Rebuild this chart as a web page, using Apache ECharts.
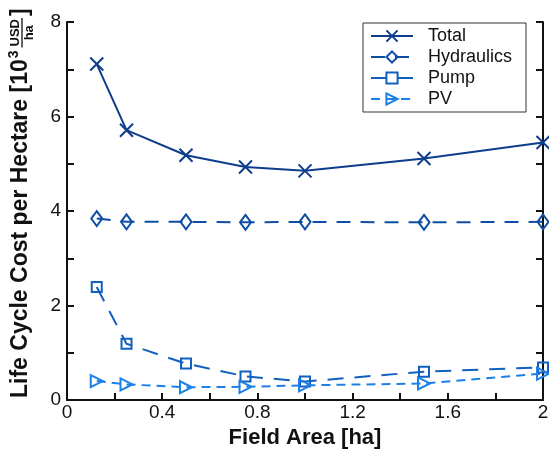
<!DOCTYPE html>
<html>
<head>
<meta charset="utf-8">
<script src="https://cdn.jsdelivr.net/npm/echarts@6/dist/echarts.min.js"></script>
<style>
  html, body { margin: 0; padding: 0; background: #fff; }
  #chart { width: 549px; height: 449px; }
</style>
</head>
<body>
<div id="chart"></div>
<script>
// Field area (ha) at which each configuration was evaluated
const fieldArea = [0.125, 0.25, 0.5, 0.75, 1.0, 1.5, 2.0];

// Life cycle cost per hectare, 10^3 USD/ha
const totalCost      = [7.11, 5.71, 5.18, 4.93, 4.85, 5.11, 5.45];
const hydraulicsCost = [3.84, 3.77, 3.77, 3.76, 3.77, 3.76, 3.77];
const pumpCost       = [2.39, 1.19, 0.77, 0.50, 0.39, 0.60, 0.69];
const pvCost         = [0.40, 0.33, 0.27, 0.28, 0.31, 0.35, 0.56];

const seriesNames = ['Total', 'Hydraulics', 'Pump', 'PV'];

const FONT = '"Liberation Sans", Arial, Helvetica, sans-serif';
const AXIS_COLOR = '#111';

const pairs = ys => fieldArea.map((x, i) => [x, ys[i]]);

const CROSS = 'path://M0,0L10,10M10,0L0,10';
const DIAMOND = 'path://M5,0L10,7L5,14L0,7Z';
const SQUARE = 'path://M0,0L10,0L10,10L0,10Z';
const TRI_RIGHT = 'path://M0,0L11,5.5L0,11Z';

function lineSeries(name, ys, color, dash, symbol, size) {
  return {
    name: name,
    type: 'line',
    data: pairs(ys),
    clip: false,
    symbol: symbol,
    symbolSize: size,
    showAllSymbol: true,
    lineStyle: { color: color, width: 2, type: dash },
    itemStyle: { color: 'rgba(255,255,255,0)', borderColor: color, borderWidth: 2 },
    emphasis: { disabled: true },
    z: 3
  };
}

// Text width helper for laying out the rotated y-axis title
const measureCtx = document.createElement('canvas').getContext('2d');
function textWidth(str, font) {
  measureCtx.font = font;
  return measureCtx.measureText(str).width;
}

const titleFont = 'bold 23px ' + FONT;
const supFont = 'bold 14px ' + FONT;
const fracFont = 'bold 13px ' + FONT;
const titleMain = 'Life Cycle Cost per Hectare [10';
const wMain = textWidth(titleMain, titleFont);
const wSup = textWidth('3', supFont);
const wFrac = textWidth('USD', fracFont);
const fracX = wMain + wSup + 5;

const chart = echarts.init(document.getElementById('chart'), null, { renderer: 'canvas' });

const axisCommon = {
  axisLine: { show: true, onZero: false, lineStyle: { color: AXIS_COLOR, width: 2 } },
  axisTick: { show: true, inside: true, length: 7, lineStyle: { color: AXIS_COLOR, width: 2 } },
  minorTick: { show: true, splitNumber: 2, length: 7, lineStyle: { color: AXIS_COLOR, width: 2 } },
  splitLine: { show: false },
  minorSplitLine: { show: false }
};

chart.setOption({
  animation: false,
  backgroundColor: '#fff',
  grid: { left: 67, right: 6, top: 22, bottom: 49, containLabel: false, outerBoundsMode: 'none' },
  xAxis: Object.assign({
    type: 'value',
    min: 0, max: 2, interval: 0.4,
    name: 'Field Area [ha]',
    nameLocation: 'middle',
    nameGap: 26,
    nameTextStyle: { fontFamily: FONT, fontSize: 22, fontWeight: 'bold', color: '#111' },
    axisLabel: {
      fontFamily: FONT, fontSize: 19, color: '#111', margin: 3,
      formatter: v => (Math.round(v * 10) / 10).toString()
    }
  }, axisCommon),
  yAxis: [
    Object.assign({
      type: 'value',
      min: 0, max: 8, interval: 2,
      axisLabel: { fontFamily: FONT, fontSize: 19, color: '#111', margin: 6 }
    }, axisCommon),
    Object.assign({
      type: 'value',
      position: 'right',
      min: 0, max: 8, interval: 2,
      axisLabel: { show: false }
    }, axisCommon)
  ],
  legend: {
    orient: 'vertical',
    left: 363, top: 23,
    data: seriesNames,
    backgroundColor: '#fff',
    borderColor: '#333',
    borderWidth: 1,
    padding: [4, 14, 4, 7],
    itemWidth: 42,
    itemHeight: 14,
    itemGap: 3,
    selectedMode: false,
    textStyle: { fontFamily: FONT, fontSize: 18, color: '#111', padding: [0, 0, 0, 10] }
  },
  series: [
    lineSeries('Total', totalCost, '#0d3d8c', 'solid', CROSS, [13, 13]),
    lineSeries('Hydraulics', hydraulicsCost, '#0b4ea3', [14, 10], DIAMOND, [11, 15]),
    lineSeries('Pump', pumpCost, '#1060bf', [16, 11], SQUARE, [10, 10]),
    lineSeries('PV', pvCost, '#1c80e6', [9, 6], TRI_RIGHT, [12, 12])
  ],
  graphic: [{
    type: 'group',
    x: 21, y: 398,
    rotation: Math.PI / 2,
    children: [
      { type: 'text', x: 0, y: 0,
        style: { text: titleMain, font: titleFont, fill: '#111', textVerticalAlign: 'middle' } },
      { type: 'text', x: wMain + 1, y: -7,
        style: { text: '3', font: supFont, fill: '#111', textVerticalAlign: 'middle' } },
      { type: 'text', x: fracX + wFrac / 2, y: -6,
        style: { text: 'USD', font: fracFont, fill: '#111',
                 textAlign: 'center', textVerticalAlign: 'middle' } },
      { type: 'line', shape: { x1: fracX - 1, y1: 1, x2: fracX + wFrac + 1, y2: 1 },
        style: { stroke: '#111', lineWidth: 1.3 } },
      { type: 'text', x: fracX + wFrac / 2, y: 8,
        style: { text: 'ha', font: fracFont, fill: '#111',
                 textAlign: 'center', textVerticalAlign: 'middle' } },
      { type: 'text', x: fracX + wFrac + 3, y: 0,
        style: { text: ']', font: titleFont, fill: '#111', textVerticalAlign: 'middle' } }
    ]
  }]
});
</script>
</body>
</html>
